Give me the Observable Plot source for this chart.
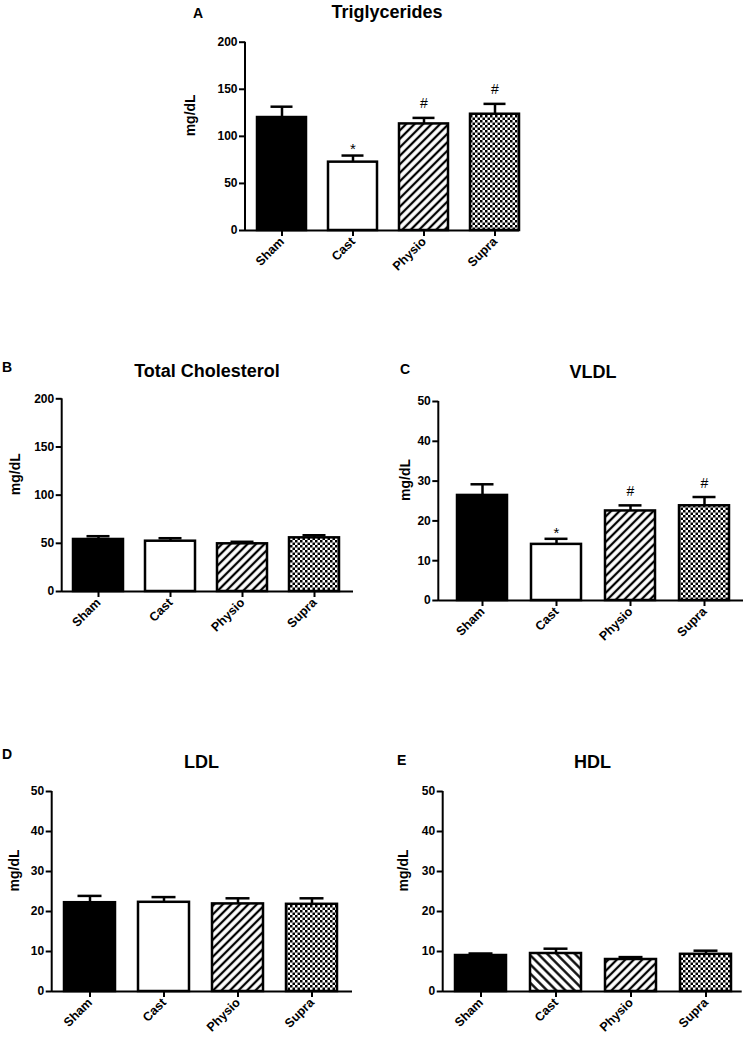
<!DOCTYPE html>
<html><head><meta charset="utf-8">
<script src="https://cdn.jsdelivr.net/npm/d3@7"></script>
<script src="https://cdn.jsdelivr.net/npm/@observablehq/plot@0.6"></script>
<style>
body{margin:0;background:#fff;}
#wrap{position:relative;width:746px;height:1044px;overflow:hidden;font-family:"Liberation Sans",Arial,sans-serif;color:#000;}
.t{position:absolute;font-weight:bold;font-size:18px;line-height:18px;white-space:nowrap;transform:translateX(-50%);}
.l{position:absolute;font-weight:bold;font-size:14px;line-height:14px;}
.p{position:absolute;}
</style></head><body>
<svg width="0" height="0" style="position:absolute">
  <defs>
    <pattern id="hatchF" patternUnits="userSpaceOnUse" width="6" height="6" patternTransform="rotate(45)">
      <rect width="6" height="6" fill="white"/>
      <line x1="3" y1="-1" x2="3" y2="7" stroke="black" stroke-width="2.3"/>
    </pattern>
    <pattern id="hatchB" patternUnits="userSpaceOnUse" width="6.5" height="6.5" patternTransform="rotate(-45)">
      <rect width="6.5" height="6.5" fill="white"/>
      <line x1="3.25" y1="-1" x2="3.25" y2="7.5" stroke="black" stroke-width="2.3"/>
    </pattern>
    <pattern id="checker" patternUnits="userSpaceOnUse" width="5" height="5">
      <rect width="5" height="5" fill="white"/>
      <rect x="0" y="0" width="2.5" height="2.5" fill="black"/>
      <rect x="2.5" y="2.5" width="2.5" height="2.5" fill="black"/>
    </pattern>
  </defs>
</svg>
<div id="wrap"></div>
<script>
// ---- data ----
const groups = ["Sham", "Cast", "Physio", "Supra"];
const trigMean = [120, 72.6, 113.2, 123.5];
const trigSem = [11.5, 7.0, 6.4, 11.0];
const trigSig = ["", "*", "#", "#"];
const tcMean = [54.0, 52.2, 49.5, 55.7];
const tcSem = [3.4, 3.1, 2.1, 2.7];
const vldlMean = [26.4, 14.1, 22.5, 23.8];
const vldlSem = [2.8, 1.4, 1.4, 2.2];
const vldlSig = ["", "*", "#", "#"];
const ldlMean = [22.2, 22.3, 21.9, 21.8];
const ldlSem = [1.7, 1.3, 1.4, 1.5];
const hdlMean = [9.0, 9.5, 8.0, 9.3];
const hdlSem = [0.5, 1.2, 0.6, 0.9];
const ticks200 = [0, 50, 100, 150, 200];
const ticks50 = [0, 10, 20, 30, 40, 50];
const yLabel = "mg/dL";

const fillsStd = ["black", "white", "url(#hatchF)", "url(#checker)"];
const fillsHdl = ["black", "url(#hatchB)", "url(#hatchF)", "url(#checker)"];

const wrap = document.getElementById("wrap");

function addText(cls, txt, left, top) {
  const d = document.createElement("div");
  d.className = cls; d.textContent = txt;
  d.style.left = left + "px"; d.style.top = top + "px";
  wrap.appendChild(d);
}

function panel(c) {
  const data = groups.map((g, i) => ({g, m: c.mean[i], e: c.mean[i] + c.sem[i], s: c.sig ? c.sig[i] : ""}));
  const yAxisLine = (index, scales, values, dims) => {
    const ns = "http://www.w3.org/2000/svg";
    const ln = document.createElementNS(ns, "line");
    const x = dims.marginLeft;
    ln.setAttribute("x1", x); ln.setAttribute("x2", x);
    ln.setAttribute("y1", scales.y(0) + 1); ln.setAttribute("y2", scales.y(c.yMax));
    ln.setAttribute("stroke", "black"); ln.setAttribute("stroke-width", 2);
    return ln;
  };
  const svg = Plot.plot({
    width: c.w, height: c.h,
    marginLeft: c.mL, marginTop: c.mT, marginRight: c.mR, marginBottom: c.mB,
    style: {fontFamily: '"Liberation Sans", Arial, sans-serif', fontSize: "12px", fontWeight: "bold", background: "transparent", color: "black", overflow: "visible"},
    x: {domain: groups, paddingInner: c.pI, paddingOuter: c.pO, align: c.al, label: null},
    y: {domain: [0, c.yMax], label: null},
    color: {domain: groups, range: c.fills},
    marks: [
      Plot.ruleX(data, {x: "g", y1: "m", y2: "e", stroke: "black", strokeWidth: 2.5}),
      Plot.tickY(data, {x: "g", y: "e", stroke: "black", strokeWidth: 2.5, insetLeft: 13.5, insetRight: 13.5}),
      Plot.barY(data, {x: "g", y: "m", fill: "g", stroke: "black", strokeWidth: 2.5}),
      Plot.axisY({ticks: c.ticks, tickSize: 6, tickPadding: 2, strokeWidth: 2, fontSize: 12, label: null}),
      Plot.axisX({tickSize: 6, tickPadding: 3, tickRotate: -45, strokeWidth: 2, fontSize: 12.5, label: null}),
      Plot.ruleY([0], {stroke: "black", strokeWidth: 2}),
      yAxisLine,
      Plot.text([yLabel], {text: d => d, frameAnchor: "left", rotate: -90, dx: c.labDx, fontSize: 14, fontWeight: "bold"}),
      Plot.text(data.filter(d => d.s === "*"), {x: "g", y: "e", text: "s", dy: -6, fontSize: 15, fontWeight: "normal"}),
      Plot.text(data.filter(d => d.s === "#"), {x: "g", y: "e", text: "s", dy: -14, fontSize: 14, fontWeight: "normal"})
    ]
  });
  svg.classList.add("p");
  svg.style.left = c.left + "px";
  svg.style.top = c.top + "px";
  wrap.appendChild(svg);
  addText("t", c.title, c.tx, c.tyTop);
  addText("l", c.letter, c.lx, c.lyTop);
}

// A: Triglycerides
panel({title: "Triglycerides", letter: "A", mean: trigMean, sem: trigSem, sig: trigSig, yMax: 200, ticks: ticks200, fills: fillsStd,
  left: 175, top: 20, w: 354, h: 280, mL: 70, mT: 21.7, mR: 10, mB: 70, pI: 0.306, pO: 0.074, al: 1, labDx: -55,
  tx: 387, tyTop: 2.5, lx: 193, lyTop: 6});
// B: Total Cholesterol
panel({title: "Total Cholesterol", letter: "B", mean: tcMean, sem: tcSem, yMax: 200, ticks: ticks200, fills: fillsStd,
  left: 0, top: 380, w: 363, h: 281, mL: 61.7, mT: 18.3, mR: 10, mB: 70, pI: 0.301, pO: 0.162, al: 0.47, labDx: -46.7,
  tx: 207, tyTop: 361.5, lx: 2, lyTop: 360});
// C: VLDL
panel({title: "VLDL", letter: "C", mean: vldlMean, sem: vldlSem, sig: vldlSig, yMax: 50, ticks: ticks50, fills: fillsStd,
  left: 373, top: 380, w: 373, h: 290, mL: 65.3, mT: 21, mR: 3, mB: 70, pI: 0.32, pO: 0.193, al: 0.59, labDx: -33.3,
  tx: 593, tyTop: 363, lx: 400, lyTop: 361.5});
// D: LDL
panel({title: "LDL", letter: "D", mean: ldlMean, sem: ldlSem, yMax: 50, ticks: ticks50, fills: fillsStd,
  left: 0, top: 775, w: 362, h: 269, mL: 51.7, mT: 16, mR: 10, mB: 53, pI: 0.305, pO: 0.16, al: 0.46, labDx: -37.7,
  tx: 201.5, tyTop: 753, lx: 2, lyTop: 746.5});
// E: HDL
panel({title: "HDL", letter: "E", mean: hdlMean, sem: hdlSem, yMax: 50, ticks: ticks50, fills: fillsHdl,
  left: 373, top: 775, w: 373, h: 269, mL: 69.7, mT: 16, mR: 4.3, mB: 53, pI: 0.32, pO: 0.153, al: 0.52, labDx: -39.7,
  tx: 592.5, tyTop: 753, lx: 397, lyTop: 753});
</script>
</body></html>
